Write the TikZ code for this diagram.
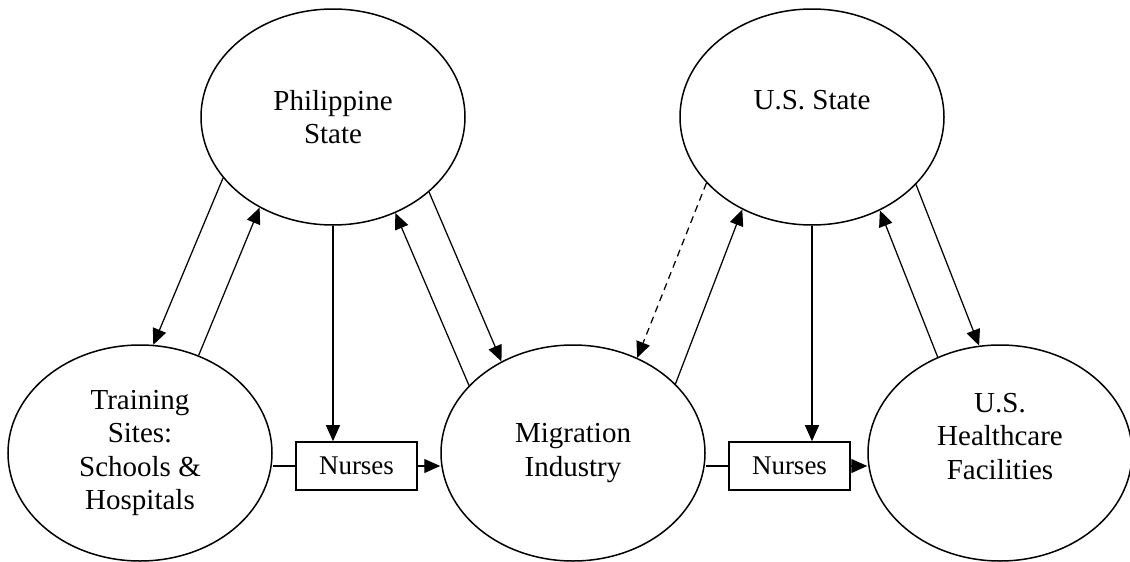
\documentclass[tikz,border=0pt]{standalone}
\usepackage{fontspec}
\setmainfont{Liberation Serif}
\usetikzlibrary{arrows.meta,shapes.geometric}
\begin{document}
\begin{tikzpicture}[x=1pt,y=-1pt,
  oval/.style={draw, line width=1.5pt, ellipse, minimum width=264pt, minimum height=216pt, inner sep=0pt, align=center, font=\fontsize{29}{33.5}\selectfont},
  nursebox/.style={draw, line width=1.6pt, rectangle, minimum width=121pt, minimum height=48pt, inner sep=0pt, font=\fontsize{27}{30}\selectfont},
  link/.style={line width=1.25pt, -{Triangle[length=16pt,width=14pt]}},
  plainlink/.style={line width=1.25pt},
  dashlink/.style={link, dash pattern=on 7pt off 5pt}]
\useasboundingbox (0,0) rectangle (1130,562);
\node[oval] (phil) at (333,117) {Philippine\\State};
\node[oval] (uss) at (812,117) {U.S. State\\\mbox{}};
\node[oval] (train) at (140,453) {Training\\Sites:\\Schools \&\\Hospitals};
\node[oval] (mig) at (573,453) {Migration\\Industry};
\node[oval] (hc) at (1000,453) {U.S.\\Healthcare\\Facilities\\\mbox{}};
\node[nursebox] (n1) at (356.5,466) {Nurses};
\node[nursebox] (n2) at (789.5,466) {Nurses};
% Philippine State connectors
\draw[link] (phil.209) -- (train.83);
\draw[link] (train.59) -- (phil.231);
\draw[link] (mig.147) -- (phil.303);
\draw[link] (phil.322) -- (mig.128);
\draw[link] (phil.south) -- (phil.south |- n1.north);
\draw[plainlink] (n1.west -| train.east) -- (n1.west);
\draw[link] (n1.east) -- (n1.east -| mig.west);
% U.S. State connectors
\draw[dashlink] (uss.212) -- (mig.56);
\draw[link] (mig.34) -- (uss.233);
\draw[link] (hc.123) -- (uss.306);
\draw[link] (uss.327) -- (hc.101);
\draw[link] (uss.south) -- (uss.south |- n2.north);
\draw[plainlink] (n2.west -| mig.east) -- (n2.west);
\draw[link] (n2.east) -- (n2.east -| hc.west);
\end{tikzpicture}
\end{document}
